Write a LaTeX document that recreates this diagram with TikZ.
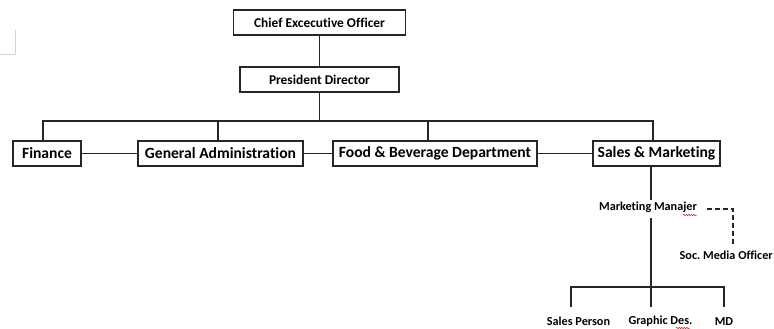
\documentclass[tikz,border=0pt]{standalone}
\usepackage{fontspec}
\setmainfont{Carlito}[Ligatures=NoCommon]
\usetikzlibrary{decorations.pathmorphing}
\begin{document}
\frenchspacing
\begin{tikzpicture}[x=1pt,y=-1pt,
  box/.style={draw=black!85, line width=1.4pt, inner sep=0pt, minimum height=25pt, font=\bfseries\fontsize{15.6}{17}\selectfont},
  smallbox/.style={box, font=\bfseries\fontsize{13.4}{15}\selectfont},
  lbl/.style={inner sep=0pt, font=\bfseries\fontsize{12.2}{14}\selectfont},
  ln/.style={draw=black!85, line width=1.2pt},
  dsh/.style={ln, dash pattern=on 4.5pt off 3.5pt},
  squig/.style={draw=red!80!black, line width=0.5pt, decorate, decoration={snake, amplitude=0.6pt, segment length=2.5pt}}]
\useasboundingbox (0,0) rectangle (774,329);
% faint page marker
\draw[gray!35, line width=0.6pt] (15,30) -- (15,54) -- (0,54);
% boxes
\node[smallbox, minimum width=172pt] (ceo) at (319.5,22.5) {Chief Excecutive Officer};
\node[smallbox, minimum width=159pt] (pd) at (319.5,79.5) {President Director};
\node[box, minimum width=68pt] (fin) at (47,153.5) {Finance};
\node[box, minimum width=165pt] (ga) at (220.5,153.5) {General Administration};
\node[box, minimum width=204pt] (fb) at (435,153.5) {Food \& Beverage Department};
\node[box, minimum width=127pt] (sm) at (656.5,153.5) {Sales \& Marketing};
% text-only nodes
\node[lbl] (mm) at (648,207.5) {Marketing Manajer};
\node[lbl, anchor=east] (smo) at (773,255.5) {Soc. Media Officer};
\node[lbl] (sp) at (578.5,321.5) {Sales Person};
\node[lbl] (gd) at (660.5,321.5) {Graphic Des.};
\node[lbl] (md) at (724,321.5) {MD};
% coordinates
\coordinate (bus) at (319.5,121);
\coordinate (bf) at (43,121);
\coordinate (bg) at (218,121);
\coordinate (bb) at (428,121);
\coordinate (bs) at (653,121);
\coordinate (mx) at (651,0);
\coordinate (dc) at (733,209);
\coordinate (lb) at (651,287);
\coordinate (lsp) at (571,287);
\coordinate (lmd) at (724,287);
% connectors
\draw[ln] (ceo.south) -- (pd.north);
\draw[ln] (pd.south) -- (bus);
\draw[ln] (bf |- fin.north) -- (bf) -- (bs) -- (bs |- sm.north);
\draw[ln] (bg) -- (bg |- ga.north);
\draw[ln] (bb) -- (bb |- fb.north);
\draw[ln] (fin.east) -- (ga.west);
\draw[ln] (ga.east) -- (fb.west);
\draw[ln] (fb.east) -- (sm.west);
\draw[ln] (mx |- sm.south) -- (651,200);
\draw[ln] (651,218) -- (lb);
\draw[ln] (lsp |- 0,307) -- (lsp) -- (lmd) -- (lmd |- 0,307);
\draw[ln] (lb) -- (651,307);
\draw[dsh] (707,209) -- (dc) -- (733,245);
% spelling squiggles
\draw[squig] (683,215) -- (697,215);
\draw[squig] (676,328) -- (690,328);
\end{tikzpicture}
\end{document}
